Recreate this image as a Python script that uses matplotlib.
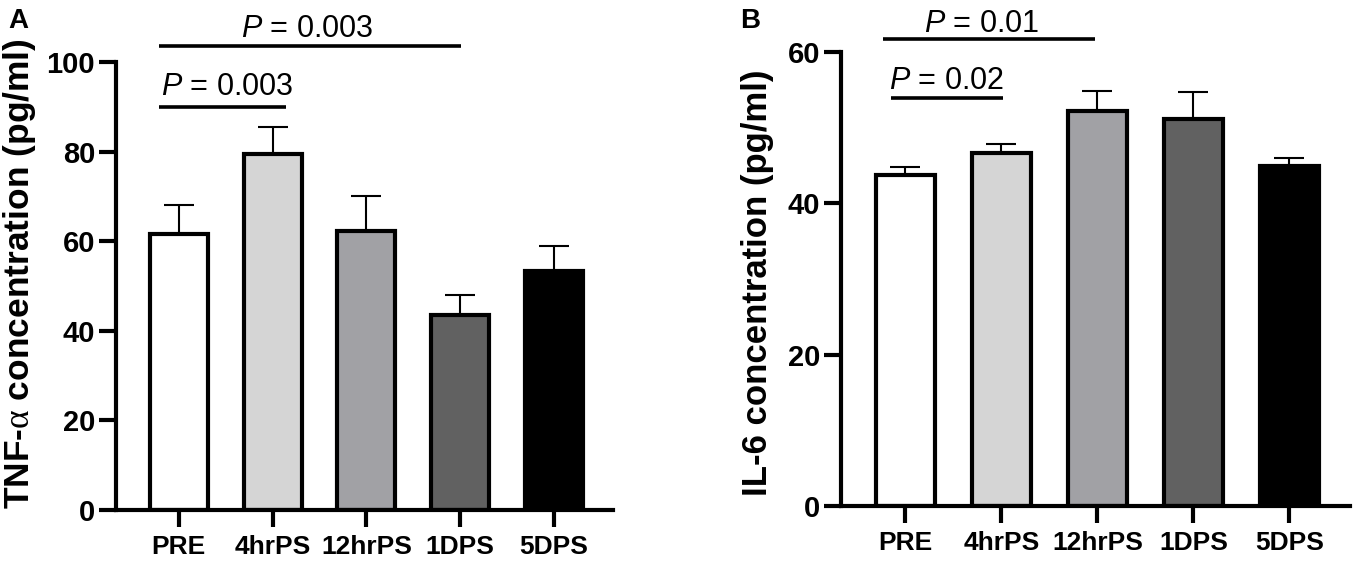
import numpy as np
import matplotlib
matplotlib.use('Agg')
import matplotlib.pyplot as plt

plt.rcParams['font.family'] = ['Liberation Sans', 'DejaVu Sans']
plt.rcParams['mathtext.fontset'] = 'custom'
plt.rcParams['mathtext.it'] = 'Liberation Sans:italic'
plt.rcParams['mathtext.rm'] = 'Liberation Serif'

groups = ['PRE', '4hrPS', '12hrPS', '1DPS', '5DPS']
colors = ['#ffffff', '#d5d5d5', '#a1a1a5', '#616161', '#000000']

tnf_mean = [61.5, 79.5, 62.3, 43.6, 53.3]
tnf_err = [6.5, 6.0, 7.9, 4.3, 5.7]
il6_mean = [43.8, 46.6, 52.2, 51.1, 44.9]
il6_err = [1.0, 1.2, 2.6, 3.6, 1.1]

# (x_from, x_to, line y, text x, text y, label)
tnf_sig = [(-0.21, 1.14, 90.0, 0.51, 92.6, '0.003'),
           (-0.21, 3.01, 103.6, 1.37, 105.6, '0.003')]
il6_sig = [(-0.15, 1.02, 53.9, 0.43, 55.1, '0.02'),
           (-0.23, 1.97, 61.7, 0.79, 62.6, '0.01')]

fig = plt.figure(figsize=(13.56, 5.65), dpi=100)
axA = fig.add_axes([116/1356, 1-510/565, 497/1356, 448/565])
axB = fig.add_axes([841/1356, 1-506/565, 509/1356, 454/565])


def panel(ax, means, errs, ymax, yticks, sig):
    x = np.arange(len(groups))
    ax.errorbar(x, means, yerr=[np.zeros(len(errs)), errs], fmt='none',
                ecolor='black', elinewidth=1.5, capsize=11, capthick=1.5, zorder=1)
    ax.bar(x, means, width=0.62, color=colors, edgecolor='black', linewidth=3, zorder=2)
    ax.set_xlim(-0.67, 4.63)
    ax.set_ylim(0, ymax)
    ax.set_yticks(yticks)
    ax.set_xticks(x)
    ax.set_xticklabels(groups)
    for s in ['top', 'right']:
        ax.spines[s].set_visible(False)
    for s in ['left', 'bottom']:
        ax.spines[s].set_linewidth(3)
    ax.tick_params(axis='both', length=12, width=3)
    ax.tick_params(axis='y', pad=3, labelsize=21)
    ax.tick_params(axis='x', pad=6, labelsize=19)
    for lab in ax.get_xticklabels() + ax.get_yticklabels():
        lab.set_fontweight('bold')
    for x0, x1, ly, tx, ty, p in sig:
        ax.plot([x0, x1], [ly, ly], color='black', lw=2.6, clip_on=False,
                solid_capstyle='butt')
        ax.text(tx, ty, r'$P$ = ' + p, ha='center', va='baseline', fontsize=22,
                clip_on=False)


panel(axA, tnf_mean, tnf_err, 100, [0, 20, 40, 60, 80, 100], tnf_sig)
panel(axB, il6_mean, il6_err, 60, [0, 20, 40, 60], il6_sig)

fig.text(20/1356, 1-274/565, r'TNF-$\mathrm{\alpha}$ concentration (pg/ml)',
         rotation=90, ha='center', va='center', fontsize=25.5, fontweight='bold')
fig.text(757/1356, 1-283/565, 'IL-6 concentration (pg/ml)',
         rotation=90, ha='center', va='center', fontsize=25, fontweight='bold')

fig.text(8/1356, 1-28/565, 'A', fontsize=20, fontweight='bold', va='baseline')
fig.text(740/1356, 1-28/565, 'B', fontsize=20, fontweight='bold', va='baseline')

fig.savefig('out.png', dpi=100)
